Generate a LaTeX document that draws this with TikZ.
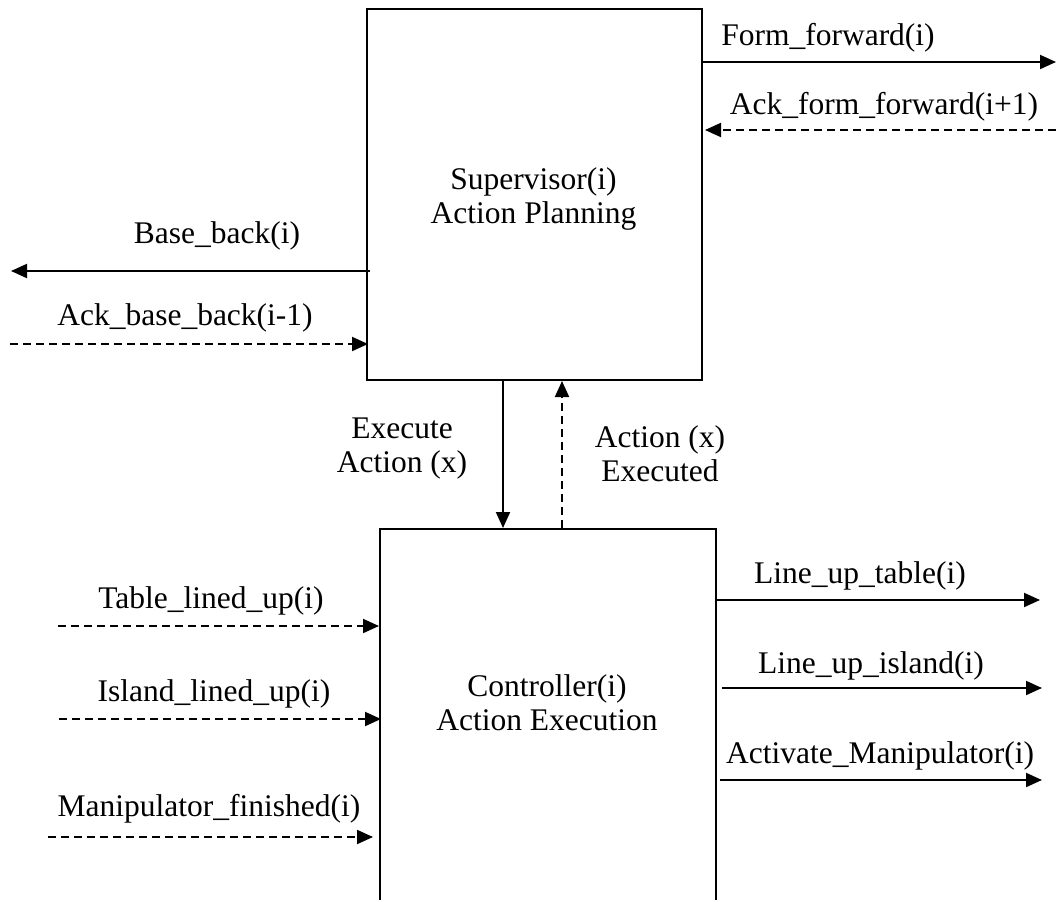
\documentclass[tikz,border=0pt]{standalone}
\usepackage{fontspec}
\setmainfont{Liberation Serif}
\usetikzlibrary{arrows.meta}

\tikzset{
  box/.style={draw, line width=1pt, inner sep=0pt},
  lbl/.style={inner sep=0pt, align=center, font=\fontsize{15.75}{17}\selectfont},
  sig/.style={line width=1pt, -{Triangle[length=8pt,width=7pt]}},
  ack/.style={sig, dash pattern=on 4pt off 2.5pt},
}

\begin{document}
\begin{tikzpicture}[x=0.5pt, y=-0.5pt]
\useasboundingbox (0,0) rectangle (1056,900);
\clip (0,0) rectangle (1056,900);

% the two blocks
\node[box, minimum width=167.5pt, minimum height=185.5pt, anchor=north west] (sup) at (366,8) {};
\node[lbl] (suptext) at (533.5,199) {Supervisor(i)\\Action Planning};
\node[box, minimum width=168pt, minimum height=210pt, anchor=north west] (ctrl) at (379,528) {};
\node[lbl] (ctrltext) at (547,703) {Controller(i)\\Action Execution};

% free ends of the signal lines
\coordinate (ffEnd) at (1056,62);
\coordinate (affStart) at (1056,130);
\coordinate (bbEnd) at (11,271);
\coordinate (abbStart) at (10,344);
\coordinate (exX) at (503,0);
\coordinate (axX) at (562,0);
\coordinate (tluStart) at (58,626);
\coordinate (iluStart) at (59,719);
\coordinate (mfStart) at (48,837);
\coordinate (lutEnd) at (1040,600);
\coordinate (luiEnd) at (1042,688);
\coordinate (amEnd) at (1042,780);

% supervisor signals
\draw[sig] (sup.east |- ffEnd) -- (ffEnd);
\node[lbl] (ffL) at (828,38) {Form\_forward(i)};
\draw[ack] (affStart) -- ([xshift=1pt]sup.east |- affStart);
\node[lbl] (affL) at (884,107) {Ack\_form\_forward(i+1)};
\draw[sig] ([xshift=2pt]sup.west |- bbEnd) -- (bbEnd);
\node[lbl] (bbL) at (217,236) {Base\_back(i)};
\draw[ack] (abbStart) -- ([xshift=1pt]sup.west |- abbStart);
\node[lbl] (abbL) at (185,318) {Ack\_base\_back(i-1)};

% supervisor <-> controller
\draw[sig] (sup.south -| exX) -- (ctrl.north -| exX);
\node[lbl] (exL) at (402,449) {Execute\\Action (x)};
\draw[ack] (ctrl.north -| axX) -- (sup.south -| axX);
\node[lbl] (axL) at (660,454) {Action (x)\\Executed};

% controller inputs
\draw[ack] (tluStart) -- (ctrl.west |- tluStart);
\node[lbl] (tluL) at (211,601) {Table\_lined\_up(i)};
\draw[ack] (iluStart) -- ([xshift=1pt]ctrl.west |- iluStart);
\node[lbl] (iluL) at (214,694) {Island\_lined\_up(i)};
\draw[ack] (mfStart) -- ([xshift=-3pt]ctrl.west |- mfStart);
\node[lbl] (mfL) at (209,809) {Manipulator\_finished(i)};

% controller outputs
\draw[sig] (ctrl.east |- lutEnd) -- (lutEnd);
\node[lbl] (lutL) at (860,576) {Line\_up\_table(i)};
\draw[sig] ([xshift=2.5pt]ctrl.east |- luiEnd) -- (luiEnd);
\node[lbl] (luiL) at (871,666) {Line\_up\_island(i)};
\draw[sig] ([xshift=1.5pt]ctrl.east |- amEnd) -- (amEnd);
\node[lbl] (amL) at (880,756) {Activate\_Manipulator(i)};
\end{tikzpicture}
\end{document}
